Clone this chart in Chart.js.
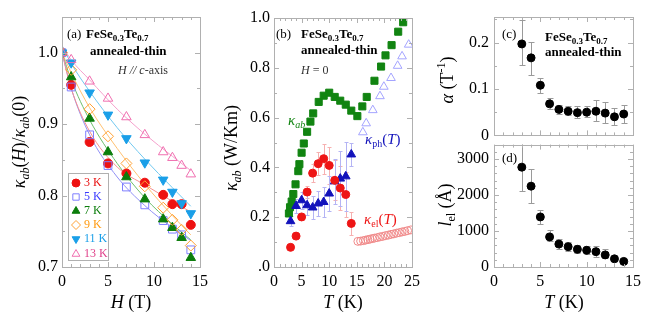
<!DOCTYPE html>
<html>
<head>
<meta charset="utf-8">
<script src="https://cdn.jsdelivr.net/npm/chart.js@4.4.0/dist/chart.umd.min.js"></script>
<style>
    html, body { margin: 0; padding: 0; background: #fff; }
    #wrap { position: relative; width: 653px; height: 320px; overflow: hidden; }
    #wrap canvas { position: absolute; }
</style>
</head>
<body>
<div id="wrap">
    <canvas id="chartA" width="215" height="320" style="left:0;top:0"></canvas>
    <canvas id="chartB" width="210" height="320" style="left:215px;top:0"></canvas>
    <canvas id="chartC" width="223" height="150" style="left:430px;top:0"></canvas>
    <canvas id="chartD" width="223" height="190" style="left:430px;top:130px"></canvas>
</div>
<script>
// Podaci ocitani sa slike

// (a) kappa_ab(H)/kappa_ab(0) u zavisnosti od polja
const fieldH = [0, 1, 3, 5, 7, 9, 11, 12, 13, 14];
const ratio3K = [1.0, 0.955, 0.875, 0.845, 0.831, 0.818, 0.801, 0.788, 0.788, 0.759];
const ratio5K = [1.0, 0.952, 0.885, 0.842, 0.812, 0.787, 0.765, 0.753, 0.745, 0.724];
const ratio7K = [1.0, 0.966, 0.908, 0.861, 0.826, 0.795, 0.767, 0.755, 0.741, 0.713];
const ratio9K = [1.0, 0.976, 0.921, 0.883, 0.845, 0.813, 0.783, 0.766, 0.752, 0.730];
const ratio11K = [1.0, 0.986, 0.944, 0.913, 0.880, 0.846, 0.822, 0.805, 0.789, 0.775];
const ratio13K = [1.0, 0.99, 0.960, 0.936, 0.910, 0.885, 0.861, 0.853, 0.842, 0.830];

// fit krive (ocitane tacke)
const fitH = [0, 1, 3, 6, 9, 12, 14];
const fit3K = [1.0, 0.95, 0.89, 0.84, 0.815, 0.792, 0.777];
const fit5K = [1.0, 0.95, 0.885, 0.826, 0.786, 0.755, 0.737];
const fit7K = [1.0, 0.962, 0.906, 0.845, 0.797, 0.76, 0.738];
const fit9K = [1.0, 0.972, 0.923, 0.866, 0.816, 0.772, 0.745];
const fit11K = [1.01, 0.985, 0.946, 0.895, 0.851, 0.811, 0.785];
const fit13K = [1.01, 0.99, 0.962, 0.921, 0.886, 0.855, 0.835];

const legendLabels = ['3 K', '5 K', '7 K', '9 K', '11 K', '13 K'];

// (b) kappa_ab(T) pri H = 0
const kabT = [2.7, 2.9, 3.2, 3.5, 3.9, 4.4, 4.6, 5.0, 5.4, 6.0, 6.6, 7.1, 8.1, 9.0, 10.0, 11.0, 12.0, 13.0, 14.0, 15.1, 16.0, 16.8, 18.2, 19.4, 20.2, 21.3, 22.5, 23.4];
const kabVal = [0.215, 0.24, 0.263, 0.293, 0.332, 0.385, 0.413, 0.459, 0.496, 0.543, 0.584, 0.617, 0.663, 0.688, 0.70, 0.683, 0.668, 0.652, 0.628, 0.606, 0.645, 0.683, 0.748, 0.805, 0.85, 0.891, 0.945, 0.983];

const sepT = [3, 4, 5, 6, 7, 8, 9, 10, 11, 12, 13, 14];
const phVal = [0.184, 0.245, 0.268, 0.248, 0.239, 0.255, 0.261, 0.295, 0.344, 0.355, 0.364, 0.452];
const phErr = [0.02, 0.03, 0.035, 0.04, 0.045, 0.05, 0.06, 0.07, 0.09, 0.11, 0.14, 0.045];
const elVal = [0.079, 0.124, 0.201, 0.301, 0.377, 0.415, 0.435, 0.408, 0.348, 0.317, 0.291, 0.175];
const elErr = [0, 0, 0.012, 0.025, 0.035, 0.047, 0.06, 0.073, 0.08, 0.09, 0.09, 0.045];

const phHighT = [16.1, 16.7, 17.9, 19.2, 19.9, 21.2, 22.4, 23.2, 24.4];
const phHighVal = [0.541, 0.577, 0.63, 0.686, 0.724, 0.759, 0.808, 0.846, 0.893];
const elHighT = [15.2, 15.7, 16.2, 16.6, 17.0, 17.4, 17.8, 18.2, 18.7, 19.2, 19.7, 20.2, 20.7, 21.2, 21.7, 22.2, 22.7, 23.2, 23.7, 24.2, 24.8];
const elHighVal = [0.103, 0.104, 0.106, 0.108, 0.110, 0.112, 0.114, 0.116, 0.118, 0.121, 0.123, 0.126, 0.128, 0.131, 0.133, 0.136, 0.138, 0.141, 0.143, 0.146, 0.149];

// (c) alpha i (d) l_el
const tempCD = [3, 4, 5, 6, 7, 8, 9, 10, 11, 12, 13, 14];
const alphaVal = [0.197, 0.167, 0.108, 0.068, 0.056, 0.052, 0.049, 0.050, 0.052, 0.048, 0.040, 0.046];
const alphaLo = [0.151, 0.131, 0.092, 0.056, 0.046, 0.043, 0.037, 0.039, 0.031, 0.027, 0.022, 0.027];
const alphaHi = [0.248, 0.202, 0.124, 0.080, 0.066, 0.063, 0.063, 0.063, 0.076, 0.073, 0.059, 0.065];
const lelVal = [2773, 2245, 1391, 836, 636, 564, 491, 464, 427, 336, 227, 155];
const lelLo = [2109, 1773, 1182, 709, 500, 455, 382, 364, 291, 245, 155, 109];
const lelHi = [3600, 2727, 1591, 1018, 773, 700, 618, 591, 591, 491, 318, 227];

// oznake na osama
const ticksAx = [0, 5, 10, 15];
const ticksAy = [0.7, 0.8, 0.9, 1.0];
const ticksBx = [0, 5, 10, 15, 20, 25];
const ticksBy = [0, 0.2, 0.4, 0.6, 0.8, 1.0];
const ticksCDx = [0, 5, 10, 15];
const ticksCy = [0, 0.1, 0.2];
const ticksDy = [0, 1000, 2000, 3000];

const SERIF = '"Liberation Serif", "Times New Roman", "DejaVu Serif", serif';
const FRAME = '#b0b0b0';

const C3 = '#ee1111', C5 = '#7f7fff', C7 = '#0b7d0b', C9 = '#ffa033', C11 = '#1a9fe8', C13 = '#f06fb0';

function pts(xs, ys) {
    return xs.map((x, i) => ({ x: x, y: ys[i] }));
}

/**
 * Crta tekst sa kurzivom, indeksima i eksponentima
 */
function richText(ctx, parts, x, y, size, color, align, rot) {
    ctx.save();
    ctx.translate(x, y);
    if (rot) ctx.rotate(rot);
    const fontOf = st => {
        const small = st.includes('s') || st.includes('p');
        const sz = small ? Math.round(size * 0.68) : size;
        return (st.includes('i') ? 'italic ' : '') + (st.includes('b') ? 'bold ' : '') + sz + 'px ' + SERIF;
    };
    let total = 0;
    parts.forEach(p => { ctx.font = fontOf(p[1] || ''); total += ctx.measureText(p[0]).width; });
    let cx = align === 'left' ? 0 : (align === 'right' ? -total : -total / 2);
    ctx.fillStyle = color || '#000';
    ctx.textBaseline = 'middle';
    ctx.textAlign = 'left';
    parts.forEach(p => {
        const st = p[1] || '';
        ctx.font = fontOf(st);
        const dy = st.includes('s') ? size * 0.3 : (st.includes('p') ? -size * 0.32 : 0);
        ctx.fillText(p[0], cx, dy);
        cx += ctx.measureText(p[0]).width;
    });
    ctx.restore();
}

function drawMarker(ctx, style, rotation, radius, x, y, color, filled) {
    ctx.save();
    ctx.strokeStyle = color;
    ctx.fillStyle = filled ? color : 'rgba(0,0,0,0)';
    ctx.lineWidth = 1;
    if (Chart.helpers && Chart.helpers.drawPoint) {
        Chart.helpers.drawPoint(ctx, { pointStyle: style, radius: radius, rotation: rotation, borderWidth: 1 }, x, y);
    } else {
        ctx.beginPath();
        ctx.arc(x, y, radius, 0, Math.PI * 2);
        ctx.fill();
        ctx.stroke();
    }
    ctx.restore();
}

/**
 * Plugin: okvir, unutrasnji podeoci, error barovi, tekstovi
 */
function panelPlugin(cfg) {
    return {
        id: 'panel' + cfg.name,
        beforeDatasetsDraw(chart) {
            const { ctx, chartArea: a, scales } = chart;
            ctx.save();
            ctx.beginPath();
            ctx.rect(a.left, a.top, a.right - a.left, a.bottom - a.top);
            ctx.clip();
            (cfg.errors || []).forEach(e => {
                ctx.strokeStyle = e.color;
                ctx.lineWidth = 1;
                e.x.forEach((xv, i) => {
                    if (e.hi[i] - e.lo[i] <= 0) return;
                    const px = Math.round(scales.x.getPixelForValue(xv)) + 0.5;
                    const p1 = Math.round(scales.y.getPixelForValue(e.lo[i])) + 0.5;
                    const p2 = Math.round(scales.y.getPixelForValue(e.hi[i])) + 0.5;
                    ctx.beginPath();
                    ctx.moveTo(px, p1); ctx.lineTo(px, p2);
                    ctx.moveTo(px - e.cap, p1); ctx.lineTo(px + e.cap, p1);
                    ctx.moveTo(px - e.cap, p2); ctx.lineTo(px + e.cap, p2);
                    ctx.stroke();
                });
            });
            ctx.restore();
        },
        afterDraw(chart) {
            const { ctx, chartArea: a, scales } = chart;
            ctx.save();
            ctx.strokeStyle = FRAME;
            ctx.lineWidth = 1;
            ctx.strokeRect(Math.round(a.left) + 0.5, Math.round(a.top) + 0.5, Math.round(a.right - a.left), Math.round(a.bottom - a.top));

            const t = cfg.ticks;
            const isMajor = (v, m) => Math.abs(v / m - Math.round(v / m)) < 1e-6;
            ctx.beginPath();
            let n = Math.floor((scales.x.max - scales.x.min) / t.xMinor + 1e-6);
            for (let k = 0; k <= n; k++) {
                const v = scales.x.min + k * t.xMinor;
                const px = Math.round(scales.x.getPixelForValue(v)) + 0.5;
                const len = isMajor(v, t.xMajor) ? 5 : 3;
                ctx.moveTo(px, a.bottom); ctx.lineTo(px, a.bottom - len);
                ctx.moveTo(px, a.top); ctx.lineTo(px, a.top + len);
            }
            const y0 = Math.ceil(scales.y.min / t.yMinor - 1e-6) * t.yMinor;
            n = Math.floor((scales.y.max - y0) / t.yMinor + 1e-6);
            for (let k = 0; k <= n; k++) {
                const v = y0 + k * t.yMinor;
                const py = Math.round(scales.y.getPixelForValue(v)) + 0.5;
                const len = isMajor(v, t.yMajor) ? 5 : 3;
                ctx.moveTo(a.left, py); ctx.lineTo(a.left + len, py);
                ctx.moveTo(a.right, py); ctx.lineTo(a.right - len, py);
            }
            ctx.stroke();

            if (cfg.legend) {
                const L = cfg.legend;
                ctx.strokeStyle = FRAME;
                ctx.strokeRect(L.box[0] - cfg.off[0] + 0.5, L.box[1] - cfg.off[1] + 0.5, L.box[2], L.box[3]);
                L.items.forEach(it => {
                    drawMarker(ctx, it.style, it.rot, it.r, L.mx - cfg.off[0], it.y - cfg.off[1], it.color, it.filled);
                    richText(ctx, [[it.label, '']], L.tx - cfg.off[0], it.y - cfg.off[1], 12, it.text, 'left');
                });
            }

            (cfg.texts || []).forEach(tx => {
                richText(ctx, tx.parts, tx.x - cfg.off[0], tx.y - cfg.off[1], tx.size, tx.color, tx.align, tx.rot);
            });
            ctx.restore();
        }
    };
}

function buildOptions(o) {
    const tickFont = { family: SERIF, size: 16 };
    return {
        responsive: false,
        animation: false,
        layout: { padding: o.padding },
        plugins: { legend: { display: false }, tooltip: { enabled: false } },
        scales: {
            x: {
                type: 'linear',
                min: o.xMin,
                max: o.xMax,
                display: o.xShow,
                afterFit: s => { s.height = o.xHeight; },
                afterBuildTicks: s => { s.ticks = o.xTicks.map(v => ({ value: v })); },
                grid: { display: false, drawTicks: false },
                border: { display: false },
                ticks: {
                    color: '#000',
                    font: tickFont,
                    padding: 5,
                    maxRotation: 0,
                    autoSkip: false,
                    callback: v => String(v)
                }
            },
            y: {
                type: 'linear',
                min: o.yMin,
                max: o.yMax,
                afterFit: s => { s.width = o.yWidth; },
                afterBuildTicks: s => { s.ticks = o.yTicks.map(v => ({ value: v })); },
                grid: { display: false, drawTicks: false },
                border: { display: false },
                ticks: {
                    color: '#000',
                    font: tickFont,
                    padding: o.yPad,
                    autoSkip: false,
                    callback: o.yFormat
                }
            }
        }
    };
}

function fitLine(ys, color) {
    return {
        data: pts(fitH, ys),
        showLine: true,
        borderColor: color,
        borderWidth: 1,
        pointRadius: 0,
        tension: 0.4,
        cubicInterpolationMode: 'monotone',
        order: 10
    };
}

function markers(xs, ys, color, style, r, filled, rot) {
    return {
        data: pts(xs, ys),
        showLine: false,
        pointStyle: style,
        pointRadius: r,
        pointRotation: rot || 0,
        pointBorderWidth: 1,
        pointBorderColor: color,
        pointBackgroundColor: filled ? color : 'rgba(0,0,0,0)',
        order: 1
    };
}

const titleFeSe = [['FeSe', 'b'], ['0.3', 'bs'], ['Te', 'b'], ['0.7', 'bs']];

// ---------- (a)
new Chart(document.getElementById('chartA'), {
    type: 'scatter',
    data: {
        datasets: [
            markers(fieldH, ratio13K, C13, 'triangle', 5.5, false),
            markers(fieldH, ratio11K, C11, 'triangle', 5.5, true, 180),
            markers(fieldH, ratio9K, C9, 'rectRot', 5.5, false),
            markers(fieldH, ratio7K, C7, 'triangle', 5.5, true),
            markers(fieldH, ratio5K, C5, 'rect', 5.5, false),
            markers(fieldH, ratio3K, C3, 'circle', 4.5, true),
            fitLine(fit3K, '#f59090'),
            fitLine(fit5K, '#9090f5'),
            fitLine(fit7K, '#6cbf6c'),
            fitLine(fit9K, '#ffc070'),
            fitLine(fit11K, '#70c8f0'),
            fitLine(fit13K, '#f5a0cc')
        ]
    },
    options: buildOptions({
        padding: { left: 0, top: 17, right: 15, bottom: 0 },
        xMin: 0, xMax: 15, xTicks: ticksAx, xShow: true, xHeight: 53,
        yMin: 0.7, yMax: 1.05, yTicks: ticksAy, yWidth: 62, yPad: 4,
        yFormat: v => v.toFixed(1)
    }),
    plugins: [panelPlugin({
        name: 'A', off: [0, 0],
        ticks: { xMajor: 5, xMinor: 1, yMajor: 0.1, yMinor: 0.05 },
        legend: {
            box: [68, 173, 40, 87], mx: 76, tx: 84,
            items: [
                { label: legendLabels[0], y: 183, style: 'circle', r: 4, rot: 0, filled: true, color: C3, text: '#e81010' },
                { label: legendLabels[1], y: 197, style: 'rect', r: 4.5, rot: 0, filled: false, color: C5, text: '#3a3aff' },
                { label: legendLabels[2], y: 211, style: 'triangle', r: 4.5, rot: 0, filled: true, color: C7, text: C7 },
                { label: legendLabels[3], y: 225, style: 'rectRot', r: 4.5, rot: 0, filled: false, color: C9, text: '#ff9a10' },
                { label: legendLabels[4], y: 239, style: 'triangle', r: 4.5, rot: 180, filled: true, color: C11, text: C11 },
                { label: legendLabels[5], y: 254, style: 'triangle', r: 4.5, rot: 0, filled: false, color: C13, text: '#e0408a' }
            ]
        },
        texts: [
            { parts: [['(a)', '']], x: 67, y: 35, size: 13, align: 'left' },
            { parts: titleFeSe, x: 86, y: 35, size: 13, align: 'left' },
            { parts: [['annealed-thin', 'b']], x: 90, y: 52, size: 13, align: 'left' },
            { parts: [['H', 'i'], [' // ', 'i'], ['c', 'i'], ['-axis', '']], x: 118, y: 71, size: 12, align: 'left', color: '#333' },
            { parts: [['κ', 'i'], ['ab', 'is'], ['(', ''], ['H', 'i'], [')/', ''], ['κ', 'i'], ['ab', 'is'], ['(0)', '']], x: 20, y: 142, size: 18, rot: -Math.PI / 2 },
            { parts: [['H', 'i'], [' (T)', '']], x: 131, y: 303, size: 18 }
        ]
    })]
});

// ---------- (b)
new Chart(document.getElementById('chartB'), {
    type: 'scatter',
    data: {
        datasets: [
            markers(sepT, elVal, '#ee1515', 'circle', 4, true),
            markers(sepT, phVal, '#1212bb', 'triangle', 5, true),
            markers(kabT, kabVal, '#118411', 'rect', 5, true),
            markers(phHighT, phHighVal, '#a4a4ff', 'triangle', 5, false),
            markers(elHighT, elHighVal, '#f08a8a', 'circle', 4, false)
        ]
    },
    options: buildOptions({
        padding: { left: 0, top: 18, right: 12, bottom: 0 },
        xMin: 0, xMax: 25, xTicks: ticksBx, xShow: true, xHeight: 53,
        yMin: 0, yMax: 1.0, yTicks: ticksBy, yWidth: 59, yPad: 4,
        yFormat: v => (v === 0 ? '.0' : v.toFixed(1))
    }),
    plugins: [panelPlugin({
        name: 'B', off: [215, 0],
        ticks: { xMajor: 5, xMinor: 1, yMajor: 0.2, yMinor: 0.1 },
        errors: [
            { x: sepT, lo: elVal.map((v, i) => v - elErr[i]), hi: elVal.map((v, i) => v + elErr[i]), color: '#f6b0b0', cap: 2 },
            { x: sepT, lo: phVal.map((v, i) => v - phErr[i]), hi: phVal.map((v, i) => v + phErr[i]), color: '#b4b4f4', cap: 2 }
        ],
        texts: [
            { parts: [['(b)', '']], x: 276, y: 35, size: 13, align: 'left' },
            { parts: titleFeSe, x: 301, y: 35, size: 13, align: 'left' },
            { parts: [['annealed-thin', 'b']], x: 301, y: 51, size: 13, align: 'left' },
            { parts: [['H', 'i'], [' = 0', '']], x: 301, y: 71, size: 12, align: 'left', color: '#333' },
            { parts: [['κ', 'i'], ['ab', 'is']], x: 288, y: 121, size: 15, align: 'left', color: '#118411' },
            { parts: [['κ', 'i'], ['ph', 's'], ['(', ''], ['T', 'i'], [')', '']], x: 365, y: 140, size: 15, align: 'left', color: '#1212bb' },
            { parts: [['κ', 'i'], ['el', 's'], ['(', ''], ['T', 'i'], [')', '']], x: 364, y: 220, size: 15, align: 'left', color: '#ee1515' },
            { parts: [['κ', 'i'], ['ab', 'is'], [' (W/Km)', '']], x: 232, y: 148, size: 18, rot: -Math.PI / 2 },
            { parts: [['T', 'i'], [' (K)', '']], x: 343, y: 303, size: 18 }
        ]
    })]
});

// ---------- (c)
new Chart(document.getElementById('chartC'), {
    type: 'scatter',
    data: { datasets: [markers(tempCD, alphaVal, '#000', 'circle', 4, true)] },
    options: buildOptions({
        padding: { left: 0, top: 17, right: 20, bottom: 8 },
        xMin: 0, xMax: 15, xTicks: ticksCDx, xShow: false, xHeight: 0,
        yMin: 0, yMax: 0.255, yTicks: ticksCy, yWidth: 64, yPad: 5,
        yFormat: v => (v === 0 ? '0' : v.toFixed(1))
    }),
    plugins: [panelPlugin({
        name: 'C', off: [430, 0],
        ticks: { xMajor: 5, xMinor: 1, yMajor: 0.1, yMinor: 0.05 },
        errors: [{ x: tempCD, lo: alphaLo, hi: alphaHi, color: '#9a9a9a', cap: 3 }],
        texts: [
            { parts: [['(c)', '']], x: 502, y: 35, size: 13, align: 'left' },
            { parts: titleFeSe, x: 545, y: 38, size: 13, align: 'left' },
            { parts: [['annealed-thin', 'b']], x: 545, y: 53, size: 13, align: 'left' },
            { parts: [['α', 'i'], [' (T', ''], ['-1', 'p'], [')', '']], x: 448, y: 80, size: 18, rot: -Math.PI / 2 }
        ]
    })]
});

// ---------- (d)
new Chart(document.getElementById('chartD'), {
    type: 'scatter',
    data: { datasets: [markers(tempCD, lelVal, '#000', 'circle', 4, true)] },
    options: buildOptions({
        padding: { left: 0, top: 12, right: 20, bottom: 0 },
        xMin: 0, xMax: 15, xTicks: ticksCDx, xShow: true, xHeight: 53,
        yMin: 0, yMax: 3400, yTicks: ticksDy, yWidth: 64, yPad: 5,
        yFormat: v => String(v)
    }),
    plugins: [panelPlugin({
        name: 'D', off: [430, 130],
        ticks: { xMajor: 5, xMinor: 1, yMajor: 1000, yMinor: 200 },
        errors: [{ x: tempCD, lo: lelLo, hi: lelHi, color: '#9a9a9a', cap: 3 }],
        texts: [
            { parts: [['(d)', '']], x: 502, y: 159, size: 13, align: 'left' },
            { parts: [['l', 'i'], ['el', 's'], [' (Å)', '']], x: 446, y: 205, size: 18, rot: -Math.PI / 2 },
            { parts: [['T', 'i'], [' (K)', '']], x: 564, y: 303, size: 18 }
        ]
    })]
});
</script>
</body>
</html>
